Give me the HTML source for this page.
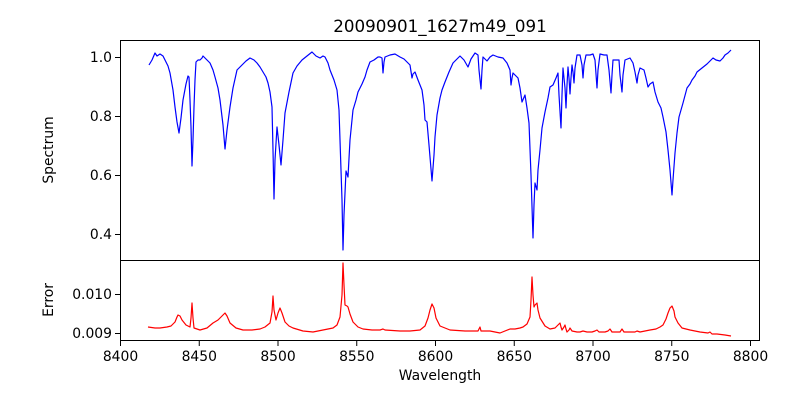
<!DOCTYPE html>
<html><head><style>
body{margin:0;background:#fff;}
svg text{font-family:"DejaVu Sans","Liberation Sans",sans-serif;}
</style></head><body>
<svg width="800" height="400" viewBox="0 0 800 400" xmlns="http://www.w3.org/2000/svg">
<rect width="800" height="400" fill="#fff"/>
<text x="440" y="32" font-size="16.7" text-anchor="middle">20090901_1627m49_091</text>
<polyline fill="none" stroke="#0000ff" stroke-width="1.2" stroke-linejoin="round" points="
149,65 152,60 155,53 157,56 160,54 163,56 165,60 168,66 170,73 173,90 175,107 177,122 179,133 181,118 183,100 186,84 188,76 189,77 190,100 191,127 192,166 193,140 194,107 195,80 196,62 198,60 200,60 202,58 203,56 206,59 210,63 213,70 215,77 218,88 220,100 223,125 225,149 227,130 230,107 233,88 237,70 240,67 242,65 246,61 250,58 254,60 257,63 260,67 263,72 266,77 268,83 270,92 272,107 273,150 274,199 275,160 277,127 279,145 281,165 283,140 285,113 289,92 293,73 297,66 302,60 307,56 312,52 316,56 320,58 323,56 325,57 328,63 330,70 334,80 337,90 339,110 340,140 342,200 343,250 344,215 346,171 348,177 350,140 353,110 356,100 358,92 362,84 365,77 367,70 370,62 374,60 378,57 380,57 382,58 383,73 384,62 385,57 390,55 395,54 400,57 404,59 407,62 410,65 412,78 413,74 415,72 418,80 422,90 424,105 425,120 427,122 429,145 432,181 434,155 435,137 437,115 440,98 442,90 445,82 449,72 453,63 457,59 460,56 464,60 468,67 471,59 475,53 478,55 479,70 481,89 482,70 483,57 487,61 490,57 493,55 498,57 503,58 507,63 510,70 511,85 512,78 513,73 516,76 518,78 520,88 522,102 525,95 527,108 529,123 531,175 533,238 534,205 535,183 537,190 538,170 540,150 542,128 545,112 548,98 550,87 553,85 556,78 558,73 559,95 561,128 562,95 563,68 565,88 566,108 567,85 568,67 569,78 570,94 571,78 572,65 573,72 574,83 575,68 577,55 580,55 582,65 583,78 584,65 586,55 590,55 593,54 595,60 597,88 598,70 600,54 604,55 607,55 609,70 611,93 612,75 613,60 616,60 619,60 620,75 622,92 623,75 625,60 630,58 633,63 635,72 637,83 638,75 640,68 644,70 646,78 648,87 650,84 653,82 655,92 658,102 661,108 663,117 666,132 668,150 670,170 672,195 673,180 675,153 677,133 679,117 683,103 687,88 690,84 692,80 695,76 697,72 702,68 707,64 710,61 713,58 716,60 720,61 723,58 725,55 728,53 731,50"/>
<polyline fill="none" stroke="#ff0000" stroke-width="1.2" stroke-linejoin="round" points="
148,327 155,328 160,328 167,327 171,326 175,322 177,317 178,315 180,316 182,320 186,325 190,327 191,318 192,303 193,318 194,328 200,330 207,328 213,323 218,320 222,316 225,313 227,316 230,323 236,328 243,330 252,330 260,329 265,327 270,323 272,312 273,296 274,310 276,320 278,313 280,308 282,313 285,322 289,326 293,328 303,331 313,332 323,330 333,328 337,325 340,317 342,295 343,263 344,285 345,305 347,306 348,307 350,314 353,322 358,327 363,329 372,330 380,330 383,329 385,330 400,331 410,331 420,330 425,326 428,318 430,310 432,304 434,308 436,318 440,326 450,330 465,331 478,331 480,327 481,331 490,331 500,333 510,329 515,329 520,328 523,327 527,324 530,317 531,300 532,277 533,295 534,307 535,305 537,303 538,310 540,318 545,326 550,329 555,328 560,323 561,327 562,330 564,327 565,325 566,329 567,332 569,330 570,328 572,331 577,332 580,332 583,331 587,332 592,332 595,331 597,330 599,332 605,332 608,331 610,329 612,332 620,332 622,329 624,332 635,332 637,331 640,332 645,331 650,330 656,329 660,327 663,325 666,319 668,313 670,308 672,306 674,311 675,317 678,323 682,328 690,330 700,332 708,333 710,332 712,334 717,334 725,335 731,336"/>
<rect x="120.5" y="40.5" width="639" height="220" fill="none" stroke="#000" stroke-width="1"/>
<rect x="120.5" y="260.5" width="639" height="80" fill="none" stroke="#000" stroke-width="1"/>
<g stroke="#000" stroke-width="1">
<line x1="115" y1="57.5" x2="120" y2="57.5"/>
<line x1="115" y1="116.5" x2="120" y2="116.5"/>
<line x1="115" y1="175.5" x2="120" y2="175.5"/>
<line x1="115" y1="234.5" x2="120" y2="234.5"/>
<line x1="115" y1="294.5" x2="120" y2="294.5"/>
<line x1="115" y1="333.5" x2="120" y2="333.5"/>
<line x1="120.5" y1="341" x2="120.5" y2="346"/>
<line x1="199.25" y1="341" x2="199.25" y2="346"/>
<line x1="278" y1="341" x2="278" y2="346"/>
<line x1="356.75" y1="341" x2="356.75" y2="346"/>
<line x1="435.5" y1="341" x2="435.5" y2="346"/>
<line x1="514.25" y1="341" x2="514.25" y2="346"/>
<line x1="593" y1="341" x2="593" y2="346"/>
<line x1="671.75" y1="341" x2="671.75" y2="346"/>
<line x1="750.5" y1="341" x2="750.5" y2="346"/>
</g>
<g font-size="13.9" text-anchor="end">
<text x="112" y="62">1.0</text>
<text x="112" y="121">0.8</text>
<text x="112" y="180">0.6</text>
<text x="112" y="239">0.4</text>
<text x="112" y="299">0.010</text>
<text x="112" y="338">0.009</text>
</g>
<g font-size="13.9" text-anchor="middle">
<text x="120.5" y="361">8400</text>
<text x="199.25" y="361">8450</text>
<text x="278" y="361">8500</text>
<text x="356.75" y="361">8550</text>
<text x="435.5" y="361">8600</text>
<text x="514.25" y="361">8650</text>
<text x="593" y="361">8700</text>
<text x="671.75" y="361">8750</text>
<text x="750.5" y="361">8800</text>
<text x="440" y="380">Wavelength</text>
<text transform="translate(53,150) rotate(-90)">Spectrum</text>
<text transform="translate(53,300) rotate(-90)">Error</text>
</g>
</svg>
</body></html>
